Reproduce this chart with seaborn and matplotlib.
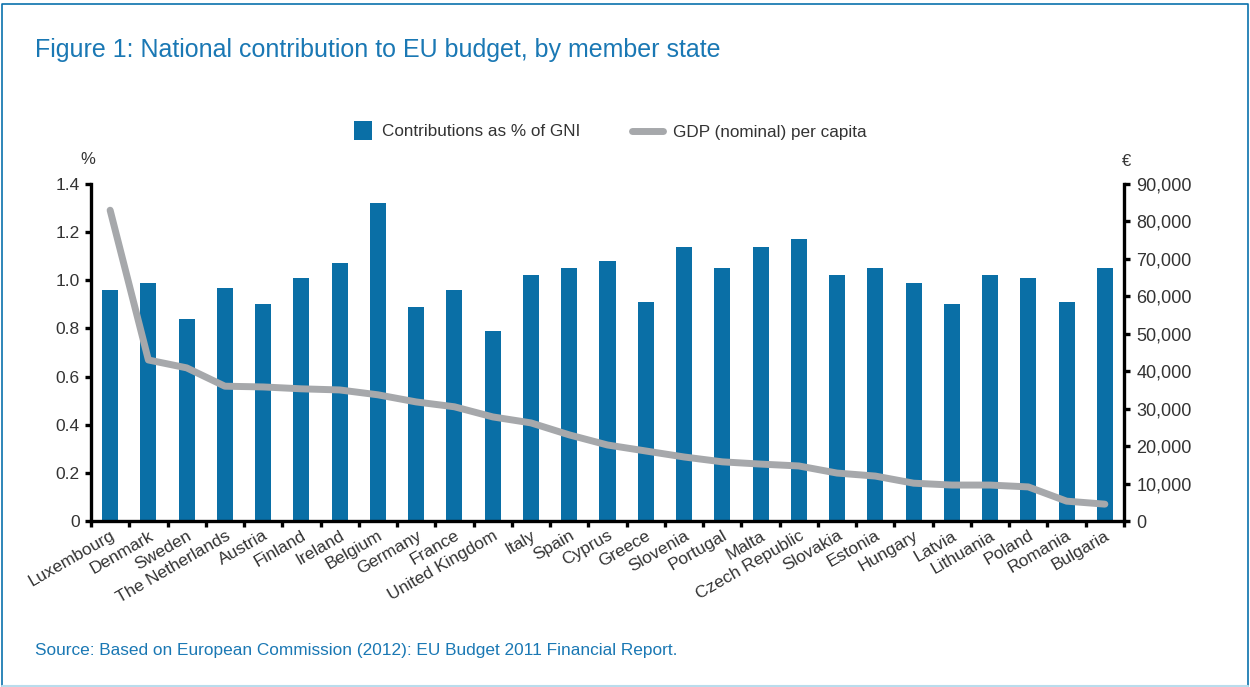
import numpy as np
import pandas as pd
import matplotlib
matplotlib.use("Agg")
import matplotlib.pyplot as plt
import matplotlib.ticker as mticker
import matplotlib.transforms as mtransforms
from matplotlib.patches import Rectangle
from matplotlib.lines import Line2D
from matplotlib.legend_handler import HandlerPatch
import seaborn as sns

# ---- data -------------------------------------------------------------
countries = [
    "Luxembourg", "Denmark", "Sweden", "The Netherlands", "Austria", "Finland",
    "Ireland", "Belgium", "Germany", "France", "United Kingdom", "Italy",
    "Spain", "Cyprus", "Greece", "Slovenia", "Portugal", "Malta",
    "Czech Republic", "Slovakia", "Estonia", "Hungary", "Latvia", "Lithuania",
    "Poland", "Romania", "Bulgaria",
]
contribution_pct_gni = [
    0.96, 0.99, 0.84, 0.97, 0.90, 1.01, 1.07, 1.32, 0.89, 0.96, 0.79, 1.02,
    1.05, 1.08, 0.91, 1.14, 1.05, 1.14, 1.17, 1.02, 1.05, 0.99, 0.90, 1.02,
    1.01, 0.91, 1.05,
]
gdp_per_capita_eur = [
    83000, 43000, 40900, 36000, 35800, 35300, 35000, 33700, 31800, 30500,
    27800, 26200, 23000, 20300, 18700, 17100, 15800, 15200, 14700, 12800,
    12000, 10100, 9600, 9600, 9100, 5300, 4500,
]
left_ticks = [0, 0.2, 0.4, 0.6, 0.8, 1.0, 1.2, 1.4]
left_tick_labels = ["0", "0.2", "0.4", "0.6", "0.8", "1.0", "1.2", "1.4"]
right_ticks = [0, 10000, 20000, 30000, 40000, 50000, 60000, 70000, 80000, 90000]

title = "Figure 1: National contribution to EU budget, by member state"
source = "Source: Based on European Commission (2012): EU Budget 2011 Financial Report."
bar_label = "Contributions as % of GNI"
line_label = "GDP (nominal) per capita"

# ---- style ------------------------------------------------------------
sns.set_style("white")
plt.rcParams["font.family"] = ["Liberation Sans", "DejaVu Sans"]

BAR_BLUE = "#0a6fa6"
LINE_GREY = "#a6a8ab"
TITLE_BLUE = "#1a78b4"
FRAME_BLUE = "#0a72ad"
TEXT = "#333333"

df = pd.DataFrame({
    "country": countries,
    "pct": contribution_pct_gni,
    "gdp": gdp_per_capita_eur,
})

W, H = 1250, 687
fig = plt.figure(figsize=(W / 100, H / 100), dpi=100)
fig.patch.set_facecolor("white")

ax = fig.add_axes([91 / W, 1 - 521 / H, (1124 - 91) / W, (521 - 184) / H])

sns.barplot(data=df, x="country", y="pct", color=BAR_BLUE, saturation=1,
            width=0.42, linewidth=0, ax=ax)

ax2 = ax.twinx()
sns.lineplot(data=df, x="country", y="gdp", sort=False, color=LINE_GREY,
             linewidth=5, solid_capstyle="round", solid_joinstyle="round",
             ax=ax2)

n = len(countries)
ax.set_xlim(-0.5, n - 0.5)
ax.set_ylim(0, 1.4)
ax2.set_ylim(0, 90000)

# left axis
ax.set_yticks(left_ticks, labels=left_tick_labels)
# right axis
ax2.set_yticks(right_ticks)
ax2.yaxis.set_major_formatter(mticker.FuncFormatter(lambda v, p: f"{int(v):,}"))

# x axis: labels under bars, tick marks between categories
ax.set_xticks(np.arange(n), labels=countries)
ax.set_xticks(np.arange(n + 1) - 0.5, minor=True)
shift = mtransforms.ScaledTranslation(8 / 100, 0, fig.dpi_scale_trans)
for lab in ax.get_xticklabels():
    lab.set_rotation(30)
    lab.set_ha("right")
    lab.set_va("top")
    lab.set_rotation_mode("anchor")
    lab.set_transform(lab.get_transform() + shift)

for a in (ax, ax2):
    a.set_xlabel("")
    a.set_ylabel("")
    a.grid(False)
    for s in a.spines.values():
        s.set_visible(False)

lw = 2.4
ax.spines["left"].set_visible(True)
ax.spines["bottom"].set_visible(True)
ax2.spines["right"].set_visible(True)
for s in (ax.spines["left"], ax.spines["bottom"], ax2.spines["right"]):
    s.set_linewidth(lw)
    s.set_color("black")

ax.tick_params(axis="y", which="major", direction="out", length=4, width=lw,
               color="black", labelsize=12.5, labelcolor=TEXT, pad=4, left=True)
ax.tick_params(axis="x", which="major", length=0, labelsize=12.5,
               labelcolor=TEXT, pad=5)
ax.tick_params(axis="x", which="minor", direction="out", length=4, width=lw,
               color="black", bottom=True)
ax2.tick_params(axis="y", which="major", direction="out", length=4, width=lw,
                color="black", labelsize=13, labelcolor=TEXT, pad=5, right=True)
ax2.tick_params(axis="x", length=0, labelbottom=False)

# unit labels above the axes
fig.text(88 / W, 1 - 160 / H, "%", ha="center", va="center", fontsize=12,
         color=TEXT)
fig.text(1127 / W, 1 - 162 / H, "€", ha="center", va="center", fontsize=12,
         color=TEXT)

# title and source
fig.text(35 / W, 1 - 50 / H, title, ha="left", va="center", fontsize=18,
         color=TITLE_BLUE)
fig.text(35 / W, 1 - 651 / H, source, ha="left", va="center", fontsize=12.4,
         color=TITLE_BLUE)

# legend: square swatch for bars, thick line for GDP
def square_patch(legend, orig_handle, xdescent, ydescent, width, height, fontsize):
    side = height * 1.55
    return Rectangle((-xdescent + width - side,
                      -ydescent + (height - side) / 2), side, side)

bar_handle = Rectangle((0, 0), 1, 1, facecolor=BAR_BLUE, edgecolor="none")
line_handle = Line2D([], [], color=LINE_GREY, linewidth=5,
                     solid_capstyle="round")
fig.legend([bar_handle, line_handle], [bar_label, line_label],
           loc="center", bbox_to_anchor=(604 / W, 1 - 132 / H), ncol=2,
           frameon=False, fontsize=12.3, handlelength=1.8, handletextpad=0.6,
           columnspacing=3.0, labelcolor=TEXT,
           handler_map={Rectangle: HandlerPatch(patch_func=square_patch)})

# page frame
frame = Line2D([2 / W, 2 / W, 1248 / W, 1248 / W],
               [1 - 686 / H, 1 - 4 / H, 1 - 4 / H, 1 - 686 / H],
               transform=fig.transFigure, color=FRAME_BLUE, linewidth=1.2)
fig.lines.append(frame)
bottom_rule = Line2D([2 / W, 1248 / W], [1 - 686 / H, 1 - 686 / H],
                     transform=fig.transFigure, color="#b9dcec", linewidth=1.5)
fig.lines.append(bottom_rule)

fig.savefig("out.png", dpi=100, facecolor="white")
